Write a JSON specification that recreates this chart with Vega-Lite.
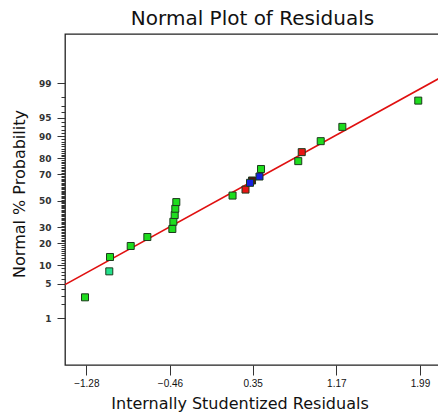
{
  "$schema": "https://vega.github.io/schema/vega-lite/v6.json",
  "width": 375,
  "height": 331,
  "autosize": {"type": "none"},
  "padding": {"left": 65, "top": 34, "right": 0, "bottom": 50},
  "background": "white",
  "config": {
    "view": {"stroke": "#222222", "strokeWidth": 1.3},
    "font": "Liberation Sans"
  },
  "title": {
    "text": "Normal Plot of Residuals",
    "fontSize": 20,
    "fontWeight": "normal",
    "font": "DejaVu Sans",
    "color": "#111111",
    "anchor": "middle",
    "offset": 5
  },
  "datasets": {
    "pts": [
      {"residual": -1.293, "normalScore": -1.915, "group": "green"},
      {"residual": -1.055, "normalScore": -1.400, "group": "teal"},
      {"residual": -1.048, "normalScore": -1.115, "group": "green"},
      {"residual": -0.845, "normalScore": -0.897, "group": "green"},
      {"residual": -0.682, "normalScore": -0.719, "group": "green"},
      {"residual": -0.437, "normalScore": -0.560, "group": "green"},
      {"residual": -0.427, "normalScore": -0.416, "group": "green"},
      {"residual": -0.414, "normalScore": -0.283, "group": "green"},
      {"residual": -0.408, "normalScore": -0.158, "group": "green"},
      {"residual": -0.398, "normalScore": -0.026, "group": "green"},
      {"residual": 0.153, "normalScore": 0.103, "group": "green"},
      {"residual": 0.280, "normalScore": 0.222, "group": "red"},
      {"residual": 0.344, "normalScore": 0.402, "group": "dark"},
      {"residual": 0.324, "normalScore": 0.356, "group": "blue"},
      {"residual": 0.417, "normalScore": 0.481, "group": "blue"},
      {"residual": 0.432, "normalScore": 0.630, "group": "green"},
      {"residual": 0.797, "normalScore": 0.786, "group": "green"},
      {"residual": 0.831, "normalScore": 0.964, "group": "red"},
      {"residual": 1.017, "normalScore": 1.182, "group": "green"},
      {"residual": 1.229, "normalScore": 1.465, "group": "green"},
      {"residual": 1.973, "normalScore": 1.986, "group": "green"}
    ],
    "fit": [
      {"x1": -1.489, "z1": -1.663, "x2": 2.186, "z2": 2.436}
    ]
  },
  "layer": [
    {
      "data": {"name": "fit"},
      "mark": {"type": "rule", "color": "#e01010", "strokeWidth": 1.7, "clip": true},
      "encoding": {
        "x": {"field": "x1", "type": "quantitative", "scale": {"domain": [-1.489, 2.186], "nice": false, "zero": false}, "axis": null},
        "x2": {"field": "x2"},
        "y": {
          "field": "z1", "type": "quantitative",
          "scale": {"domain": [-3.257, 3.307], "nice": false, "zero": false},
          "axis": {
            "orient": "left",
            "values": [-2.054, -1.881, -1.751, -1.555, -1.476, -1.405, -1.341, -1.227, -1.175, -1.126, -1.080, -1.036, -0.994, -0.954, -0.915, -0.878, -0.806, -0.772, -0.739, -0.706, -0.674, -0.643, -0.613, -0.583, -0.553, -0.496, -0.468, -0.440, -0.412, -0.385, -0.358, -0.332, -0.305, -0.279, -0.253, -0.228, -0.202, -0.176, -0.151, -0.126, -0.100, -0.075, -0.050, -0.025, 0.025, 0.050, 0.075, 0.100, 0.126, 0.151, 0.176, 0.202, 0.228, 0.253, 0.279, 0.305, 0.332, 0.358, 0.385, 0.412, 0.440, 0.468, 0.496, 0.553, 0.583, 0.613, 0.643, 0.674, 0.706, 0.739, 0.772, 0.806, 0.878, 0.915, 0.954, 0.994, 1.036, 1.080, 1.126, 1.175, 1.227, 1.341, 1.405, 1.476, 1.555, 1.751, 1.881, 2.054],
            "labels": false,
            "domain": false,
            "grid": false,
            "title": null,
            "tickSize": 4,
            "tickColor": "#333333",
            "tickWidth": 1
          }
        },
        "y2": {"field": "z2"}
      }
    },
    {
      "data": {"name": "pts"},
      "mark": {"type": "square", "size": 49, "opacity": 1, "filled": true, "stroke": "#1c3a1c", "strokeWidth": 1},
      "encoding": {
        "x": {
          "field": "residual", "type": "quantitative",
          "scale": {"domain": [-1.489, 2.186], "nice": false, "zero": false},
          "axis": {
            "orient": "bottom",
            "values": [-1.28, -0.46, 0.35, 1.17, 1.99],
            "format": ".2f",
            "grid": false,
            "domain": false,
            "tickSize": 10,
            "tickColor": "#333333",
            "labelFontSize": 10,
            "labelColor": "#111111",
            "labelPadding": 3,
            "title": "Internally Studentized Residuals",
            "titleFont": "DejaVu Sans",
            "titleFontSize": 16,
            "titleFontWeight": "normal",
            "titleColor": "#111111",
            "titleX": 174.5,
            "titleY": 43.5,
            "titleAlign": "center",
            "titleBaseline": "alphabetic"
          }
        },
        "y": {
          "field": "normalScore", "type": "quantitative",
          "scale": {"domain": [-3.257, 3.307], "nice": false, "zero": false},
          "axis": {
            "orient": "left",
            "values": [-2.326, -1.645, -1.282, -0.842, -0.524, 0, 0.524, 0.842, 1.282, 1.645, 2.326],
            "labelExpr": "format(cumulativeNormal(datum.value) * 100, '.0f')",
            "grid": false,
            "domain": false,
            "tickSize": 8,
            "tickColor": "#333333",
            "labelFont": "DejaVu Sans",
            "labelFontWeight": "bold",
            "labelFontSize": 9,
            "labelColor": "#333333",
            "labelPadding": 6,
            "title": "Normal % Probability",
            "titleFont": "DejaVu Sans",
            "titleFontSize": 16,
            "titleFontWeight": "normal",
            "titleColor": "#111111",
            "titleX": -41,
            "titleY": 159.5,
            "titleAlign": "center",
            "titleBaseline": "alphabetic",
            "titleAngle": -90
          }
        },
        "color": {
          "field": "group", "type": "nominal",
          "scale": {"domain": ["green", "teal", "red", "blue", "dark"], "range": ["#1edc1e", "#22e08c", "#e81414", "#1420e0", "#5a1010"]},
          "legend": null
        }
      }
    }
  ],
  "resolve": {"axis": {"y": "independent", "x": "independent"}}
}
